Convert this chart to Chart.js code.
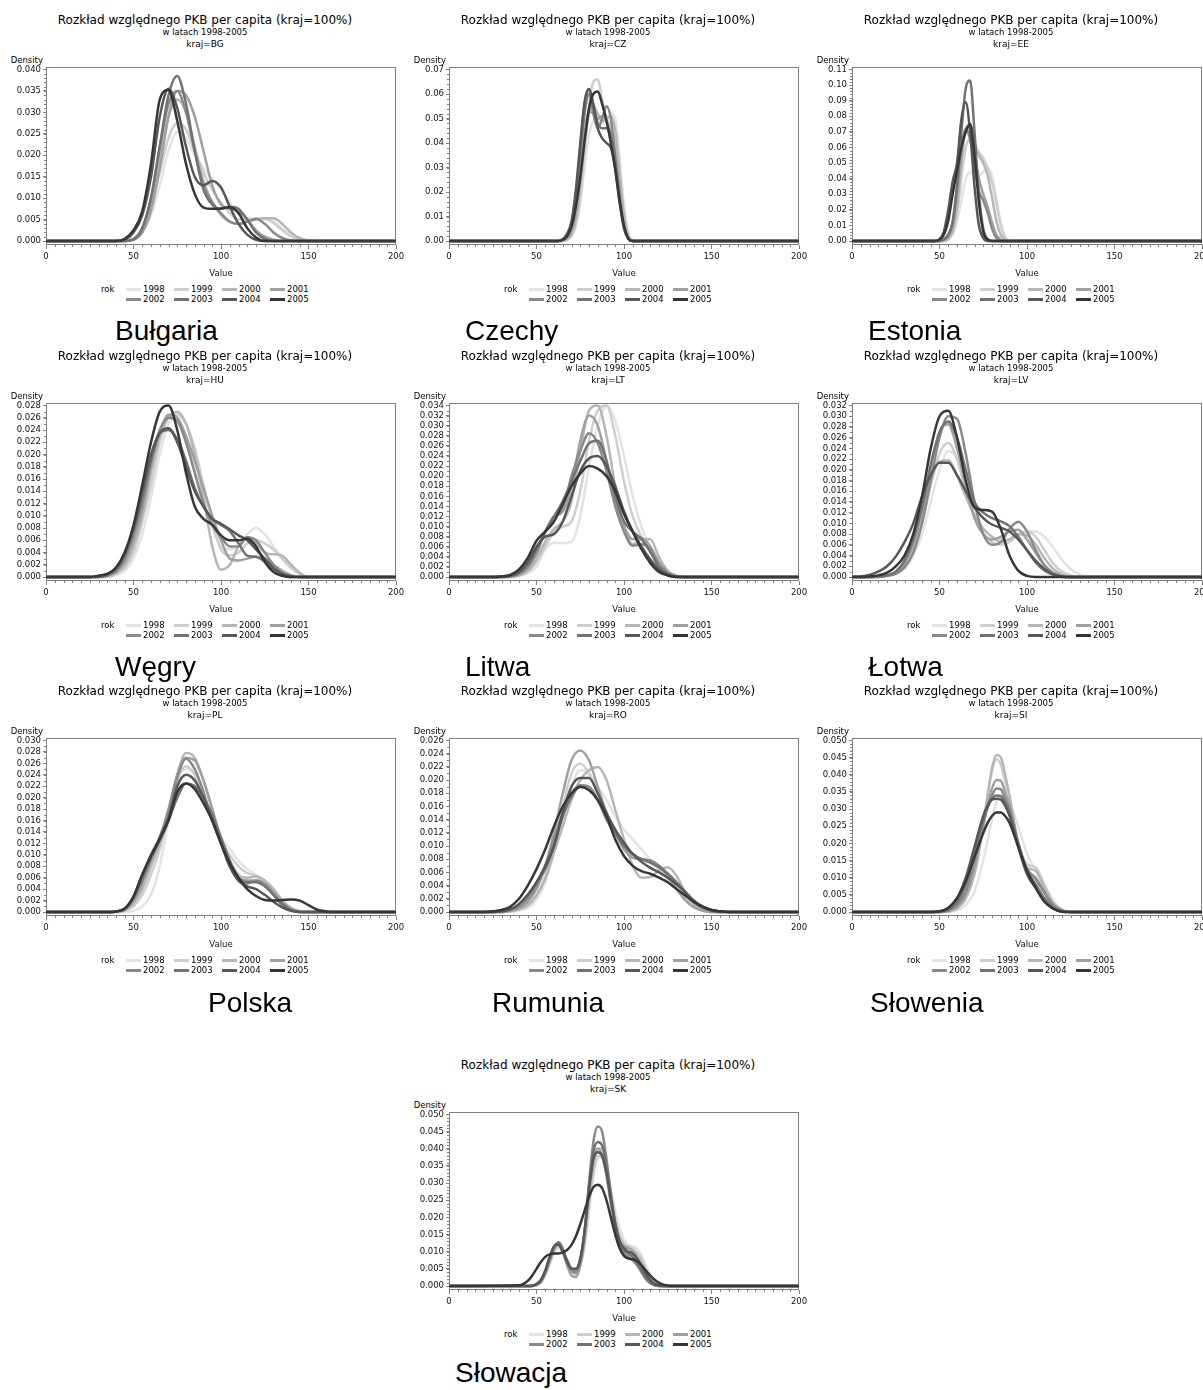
<!DOCTYPE html>
<html lang="pl">
<head>
<meta charset="utf-8">
<title>Rozkład względnego PKB per capita (kraj=100%)</title>
<script src="https://cdn.jsdelivr.net/npm/chart.js@4.4.1/dist/chart.umd.min.js"></script>
<style>
html, body { margin: 0; padding: 0; background: #fff; }
body { width: 1203px; height: 1390px; position: relative; overflow: hidden; font-family: "DejaVu Sans", Verdana, sans-serif; color: #000; }
.panel { position: absolute; width: 410px; height: 310px; }
.panel canvas { position: absolute; left: 0; top: 0; }
.t1, .t2, .t3 { position: absolute; left: 0; width: 410px; text-align: center; white-space: nowrap; }
.t1 { top: 13px; font-size: 12px; line-height: 14px; }
.t2 { top: 27px; font-size: 8.5px; line-height: 10px; }
.t3 { top: 39px; font-size: 9px; line-height: 10px; }
.dens { position: absolute; top: 55px; left: 0; width: 43px; text-align: right; font-size: 8.5px; line-height: 10px; }
.leg { position: absolute; font-size: 8.5px; line-height: 10px; white-space: nowrap; }
.sw { position: absolute; width: 15px; height: 3px; }
.country { position: absolute; font-family: "Liberation Sans", Arial, sans-serif; font-size: 28px; line-height: 28px; white-space: nowrap; }
</style>
</head>
<body>
<script>
const FONT = '"DejaVu Sans", Verdana, sans-serif';
const TEXT = '#111';
const FRAME = '#808080';

const years = ['1998', '1999', '2000', '2001', '2002', '2003', '2004', '2005'];
const yearColors = ['#e3e3e3', '#cecece', '#b6b6b6', '#a0a0a0', '#8a8a8a', '#727272', '#575757', '#363636'];

const codes = ['BG', 'CZ', 'EE', 'HU', 'LT', 'LV', 'PL', 'RO', 'SI', 'SK'];
const names = ['Bułgaria', 'Czechy', 'Estonia', 'Węgry', 'Litwa', 'Łotwa', 'Polska', 'Rumunia', 'Słowenia', 'Słowacja'];

const xTicks = [0, 50, 100, 150, 200];

// --- density curves, one array per year (1998..2005) ---
const xBG = [0, 40, 45, 50, 55, 60, 65, 70, 75, 80, 85, 90, 95, 100, 105, 110, 115, 120, 125, 130, 135, 140, 145, 150, 155, 200];
const densBG = [
  [0, 0, 0, .0005, .002, .006, .013, .021, .0255, .024, .020, .017, .0145, .012, .009, .0065, .0055, .005, .005, .0045, .003, .0015, .0005, 0, 0, 0],
  [0, 0, 0, .0005, .0025, .008, .016, .024, .0275, .026, .021, .016, .012, .009, .0065, .005, .005, .0052, .0052, .0042, .0025, .001, .0003, 0, 0, 0],
  [0, 0, 0, .0004, .002, .008, .019, .029, .033, .030, .022, .014, .009, .006, .0045, .004, .0045, .005, .0053, .0053, .004, .002, .0007, .0001, 0, 0],
  [0, 0, 0, .0003, .002, .007, .017, .029, .035, .034, .029, .021, .013, .0085, .0075, .007, .005, .0025, .001, .0003, 0, 0, 0, 0, 0, 0],
  [0, 0, 0, .0005, .003, .010, .022, .032, .035, .030, .021, .013, .009, .0065, .0045, .004, .0045, .0052, .004, .002, .0007, .0001, 0, 0, 0, 0],
  [0, 0, 0, .0003, .003, .010, .022, .034, .0385, .032, .021, .012, .0085, .0075, .008, .0075, .005, .002, .0005, 0, 0, 0, 0, 0, 0, 0],
  [0, 0, .0003, .002, .006, .015, .029, .0355, .031, .022, .015, .013, .014, .0125, .008, .004, .0015, .0003, 0, 0, 0, 0, 0, 0, 0, 0],
  [0, 0, .0005, .0025, .007, .018, .033, .0352, .028, .018, .011, .0078, .0075, .0076, .0079, .0065, .003, .0008, 0, 0, 0, 0, 0, 0, 0, 0]
];

const xCZ = [0, 60, 62.5, 65, 67.5, 70, 72.5, 75, 77.5, 80, 82.5, 85, 87.5, 90, 92.5, 95, 97.5, 100, 102.5, 105, 107.5, 200];
const densCZ = [
  [0, 0, 0, 0, .0005, .002, .006, .015, .030, .043, .049, .050, .048, .049, .052, .050, .035, .015, .004, .0005, 0, 0],
  [0, 0, 0, 0, .0005, .002, .007, .018, .036, .055, .065, .066, .058, .050, .047, .040, .025, .010, .002, 0, 0, 0],
  [0, 0, 0, 0, .001, .003, .009, .022, .040, .052, .055, .052, .049, .050, .051, .045, .028, .011, .002, 0, 0, 0],
  [0, 0, 0, .0005, .001, .004, .012, .027, .044, .053, .052, .050, .051, .049, .044, .034, .020, .007, .001, 0, 0, 0],
  [0, 0, 0, .0005, .002, .006, .017, .034, .052, .060, .052, .046, .050, .055, .050, .035, .018, .006, .001, 0, 0, 0],
  [0, 0, 0, .0005, .002, .007, .019, .037, .055, .062, .056, .048, .046, .046, .043, .033, .018, .006, .001, 0, 0, 0],
  [0, 0, 0, .0007, .003, .008, .021, .040, .057, .062, .055, .046, .042, .040, .038, .030, .016, .005, .001, 0, 0, 0],
  [0, 0, 0, .0005, .002, .006, .014, .026, .041, .054, .060, .061, .056, .049, .040, .029, .016, .006, .001, 0, 0, 0]
];

const xEE = [0, 45, 47.5, 50, 52.5, 55, 57.5, 60, 62.5, 65, 67.5, 70, 72.5, 75, 77.5, 80, 82.5, 85, 87.5, 90, 92.5, 95, 200];
const densEE = [
  [0, 0, 0, 0, 0, .001, .004, .012, .026, .040, .044, .044, .042, .044, .047, .042, .028, .012, .003, 0, 0, 0, 0],
  [0, 0, 0, 0, 0, .001, .005, .017, .040, .060, .065, .060, .057, .053, .047, .038, .024, .010, .002, 0, 0, 0, 0],
  [0, 0, 0, 0, 0, .002, .007, .022, .050, .072, .075, .064, .055, .050, .042, .028, .013, .004, .001, 0, 0, 0, 0],
  [0, 0, 0, 0, .001, .003, .010, .030, .055, .070, .068, .055, .040, .030, .022, .012, .004, .001, 0, 0, 0, 0, 0],
  [0, 0, 0, 0, .001, .004, .012, .035, .060, .072, .065, .048, .032, .026, .018, .008, .002, 0, 0, 0, 0, 0, 0],
  [0, 0, 0, 0, .001, .004, .012, .035, .070, .098, .103, .070, .030, .008, .001, 0, 0, 0, 0, 0, 0, 0, 0],
  [0, 0, 0, .001, .006, .020, .038, .050, .078, .089, .070, .035, .010, .002, 0, 0, 0, 0, 0, 0, 0, 0, 0],
  [0, 0, 0, .001, .004, .013, .030, .045, .060, .070, .075, .055, .025, .006, .001, 0, 0, 0, 0, 0, 0, 0, 0]
];

const xHU = [0, 25, 30, 35, 40, 45, 50, 55, 60, 65, 70, 75, 80, 85, 90, 95, 100, 105, 110, 115, 120, 125, 130, 135, 140, 145, 150, 155, 200];
const densHU = [
  [0, 0, 0, 0, .0003, .001, .003, .007, .013, .020, .025, .026, .023, .018, .013, .008, .005, .0045, .005, .007, .008, .007, .005, .003, .0015, .0005, 0, 0, 0],
  [0, 0, 0, 0, .0005, .0015, .004, .009, .015, .022, .026, .0265, .025, .021, .015, .009, .0045, .0035, .004, .0055, .006, .0055, .0045, .003, .0015, .0005, 0, 0, 0],
  [0, 0, 0, .0002, .0007, .002, .005, .010, .017, .023, .026, .027, .025, .020, .013, .005, .0012, .002, .005, .0065, .0055, .004, .0037, .0035, .002, .0007, 0, 0, 0],
  [0, 0, 0, .0002, .0008, .0025, .006, .011, .018, .0235, .0265, .026, .023, .019, .0145, .010, .006, .003, .0027, .003, .0033, .003, .002, .001, .0003, 0, 0, 0, 0],
  [0, 0, 0, .0003, .001, .003, .007, .012, .019, .024, .026, .0255, .022, .017, .012, .0085, .0065, .005, .005, .0065, .006, .004, .002, .0007, .0002, 0, 0, 0, 0],
  [0, 0, 0, .0003, .0012, .0035, .0075, .013, .019, .0235, .024, .0225, .019, .0145, .0115, .0095, .0085, .0075, .0055, .0035, .0033, .0025, .0012, .0004, 0, 0, 0, 0, 0],
  [0, 0, .0002, .0005, .0015, .004, .008, .014, .020, .0235, .0243, .022, .018, .014, .0115, .0095, .0087, .0078, .0068, .006, .0045, .003, .0015, .0005, .0001, 0, 0, 0, 0],
  [0, 0, .0002, .0005, .0015, .004, .0085, .015, .022, .027, .028, .024, .017, .0115, .0095, .0085, .0068, .006, .006, .0063, .005, .0025, .0008, .0002, 0, 0, 0, 0, 0]
];

const xLT = [0, 25, 30, 35, 40, 45, 50, 55, 60, 65, 70, 75, 80, 85, 90, 95, 100, 105, 110, 115, 120, 125, 130, 135, 200];
const densLT = [
  [0, 0, 0, 0, .0002, .0007, .002, .0055, .0068, .0067, .007, .012, .022, .030, .034, .031, .024, .016, .010, .006, .003, .001, .0002, 0, 0],
  [0, 0, 0, 0, .0003, .001, .003, .006, .009, .010, .011, .017, .027, .033, .034, .028, .019, .012, .008, .006, .003, .001, .0002, 0, 0],
  [0, 0, 0, 0, .0003, .0012, .0035, .007, .0095, .011, .015, .025, .033, .034, .028, .018, .010, .0065, .0075, .0075, .004, .0012, .0002, 0, 0],
  [0, 0, 0, .0001, .0005, .0018, .0045, .009, .012, .013, .018, .027, .032, .030, .023, .015, .010, .0075, .0078, .006, .003, .001, .0002, 0, 0],
  [0, 0, 0, .0002, .0007, .002, .005, .009, .012, .0135, .020, .025, .0285, .0265, .021, .014, .009, .0062, .0065, .0055, .0025, .0008, .0001, 0, 0],
  [0, 0, 0, .0002, .0008, .0025, .0055, .009, .012, .015, .019, .023, .0265, .027, .023, .016, .011, .009, .0075, .005, .002, .0006, .0001, 0, 0],
  [0, 0, .0001, .0003, .001, .003, .006, .008, .0085, .011, .016, .021, .0235, .024, .022, .018, .013, .009, .006, .0035, .0015, .0004, 0, 0, 0],
  [0, 0, .0001, .0004, .0015, .0038, .0072, .009, .011, .0145, .018, .0205, .022, .0215, .020, .017, .0125, .009, .0055, .0028, .001, .0003, 0, 0, 0]
];

const xLV = [0, 5, 10, 15, 20, 25, 30, 35, 40, 45, 50, 55, 60, 65, 70, 75, 80, 85, 90, 95, 100, 105, 110, 115, 120, 125, 130, 135, 140, 200];
const densLV = [
  [0, 0, 0, 0, .0002, .0006, .0015, .004, .008, .014, .020, .0235, .022, .017, .012, .009, .0075, .007, .007, .008, .0085, .0085, .0075, .0055, .0032, .0015, .0005, 0, 0, 0],
  [0, 0, 0, 0, .0002, .0007, .002, .005, .010, .017, .023, .025, .022, .016, .011, .008, .0065, .006, .0065, .008, .0085, .0075, .005, .0025, .001, .0003, 0, 0, 0, 0],
  [0, 0, 0, .0001, .0004, .001, .003, .007, .012, .018, .0215, .0218, .019, .015, .0115, .009, .0075, .0065, .007, .008, .0078, .006, .0035, .0015, .0005, 0, 0, 0, 0, 0],
  [0, 0, 0, .0001, .0003, .0009, .0025, .006, .012, .020, .027, .0285, .024, .017, .011, .008, .007, .0075, .0085, .0088, .007, .0045, .0022, .0008, .0002, 0, 0, 0, 0, 0],
  [0, 0, 0, 0, .0002, .0006, .0018, .0045, .010, .018, .026, .030, .0295, .023, .014, .008, .006, .0065, .009, .0103, .0085, .005, .0022, .0007, .0001, 0, 0, 0, 0, 0],
  [0, 0, 0, .0001, .0003, .001, .003, .007, .013, .021, .027, .029, .026, .020, .014, .012, .011, .0104, .0095, .0075, .005, .0027, .0012, .0004, 0, 0, 0, 0, 0, 0],
  [0, .0001, .0004, .001, .002, .0038, .0065, .010, .015, .019, .0213, .0213, .019, .016, .013, .011, .0098, .0092, .0085, .007, .005, .003, .0015, .0005, .0001, 0, 0, 0, 0, 0],
  [0, 0, .0001, .0003, .0008, .002, .004, .008, .015, .024, .030, .031, .026, .018, .013, .0125, .0122, .009, .004, .0012, .0002, 0, 0, 0, 0, 0, 0, 0, 0, 0]
];

const xPL = [0, 35, 40, 45, 50, 55, 60, 65, 70, 75, 80, 85, 90, 95, 100, 105, 110, 115, 120, 125, 130, 135, 140, 145, 150, 155, 160, 165, 200];
const densPL = [
  [0, 0, 0, 0, .0002, .001, .003, .008, .016, .023, .025, .024, .020, .016, .013, .011, .009, .0075, .0065, .0055, .004, .002, .0008, .0002, 0, 0, 0, 0, 0],
  [0, 0, 0, .0002, .001, .003, .0065, .011, .017, .023, .0255, .024, .020, .016, .0125, .010, .008, .0068, .0063, .005, .0035, .0018, .0006, .0001, 0, 0, 0, 0, 0],
  [0, 0, 0, .0003, .0015, .004, .008, .012, .017, .024, .0278, .027, .023, .018, .013, .009, .0065, .006, .0062, .0055, .004, .002, .0007, .0001, 0, 0, 0, 0, 0],
  [0, 0, .0001, .0004, .002, .005, .009, .013, .018, .024, .027, .0265, .023, .018, .0125, .008, .006, .0055, .0055, .005, .0035, .0017, .0005, .0001, 0, 0, 0, 0, 0],
  [0, 0, .0001, .0005, .0022, .0055, .0093, .013, .0175, .0235, .0268, .025, .021, .016, .012, .008, .0055, .005, .0055, .0048, .003, .0012, .0003, 0, 0, 0, 0, 0, 0],
  [0, 0, .0001, .0005, .0025, .006, .0095, .0125, .016, .020, .0225, .022, .020, .017, .013, .009, .006, .0052, .0052, .0045, .003, .0014, .0004, 0, 0, 0, 0, 0, 0],
  [0, 0, .0001, .0006, .0027, .0065, .010, .013, .0165, .022, .024, .023, .020, .016, .012, .008, .0055, .0045, .004, .003, .0018, .0008, .0002, 0, 0, 0, 0, 0, 0],
  [0, 0, .0001, .0006, .0027, .0065, .0098, .0128, .016, .021, .0225, .0215, .019, .016, .012, .0085, .006, .004, .0028, .0021, .002, .0021, .0022, .002, .0012, .0004, .0001, 0, 0]
];

const xRO = [0, 20, 25, 30, 35, 40, 45, 50, 55, 60, 65, 70, 75, 80, 85, 90, 95, 100, 105, 110, 115, 120, 125, 130, 135, 140, 145, 150, 155, 160, 165, 170, 200];
const densRO = [
  [0, 0, 0, 0, 0, .0002, .0006, .0018, .0045, .009, .014, .019, .0215, .021, .019, .017, .0145, .0125, .011, .0095, .008, .007, .0055, .004, .0025, .0012, .0004, .0001, 0, 0, 0, 0, 0],
  [0, 0, 0, 0, .0001, .0004, .001, .0025, .0055, .010, .016, .021, .0225, .021, .018, .015, .012, .0095, .0085, .008, .0075, .0065, .005, .0035, .002, .0009, .0003, 0, 0, 0, 0, 0, 0],
  [0, 0, 0, 0, .0001, .0004, .001, .0025, .005, .009, .013, .017, .020, .0215, .022, .020, .0155, .011, .007, .0052, .0053, .0063, .0068, .0055, .003, .0012, .0003, 0, 0, 0, 0, 0, 0],
  [0, 0, 0, 0, .0002, .0006, .0015, .0035, .007, .012, .018, .023, .0245, .023, .019, .015, .012, .0095, .0082, .008, .0078, .007, .0055, .0035, .0018, .0007, .0002, 0, 0, 0, 0, 0, 0],
  [0, 0, 0, .0001, .0003, .0008, .002, .004, .007, .011, .015, .018, .0192, .019, .017, .014, .012, .010, .0088, .008, .0078, .007, .0058, .0045, .003, .0016, .0006, .0002, 0, 0, 0, 0, 0],
  [0, 0, 0, .0001, .0004, .0012, .0026, .0045, .0065, .010, .0145, .0175, .019, .0185, .017, .0145, .012, .010, .0088, .008, .0075, .0068, .0058, .0045, .003, .0016, .0007, .0002, 0, 0, 0, 0, 0],
  [0, 0, 0, .0001, .0004, .0012, .0026, .0045, .007, .010, .015, .019, .0203, .0203, .018, .015, .0125, .0105, .0088, .0076, .0067, .006, .0052, .0042, .003, .0017, .0008, .0003, .0001, 0, 0, 0, 0],
  [0, 0, .0001, .0003, .0008, .002, .004, .0065, .0095, .013, .016, .018, .019, .0185, .017, .0145, .011, .0085, .007, .0062, .0058, .0052, .0045, .0035, .0025, .0015, .0008, .0003, .0001, 0, 0, 0, 0]
];

const xSI = [0, 45, 50, 55, 60, 65, 70, 75, 77.5, 80, 82.5, 85, 87.5, 90, 95, 100, 105, 110, 115, 120, 125, 200];
const densSI = [
  [0, 0, 0, 0, .0005, .002, .006, .015, .021, .027, .032, .034, .0335, .032, .025, .017, .012, .007, .003, .0008, 0, 0],
  [0, 0, 0, .0002, .001, .004, .012, .026, .034, .041, .0445, .043, .038, .033, .020, .014, .013, .008, .003, .0007, 0, 0],
  [0, 0, 0, .0002, .001, .004, .011, .025, .034, .042, .0458, .0452, .040, .034, .020, .013, .012, .007, .0025, .0005, 0, 0],
  [0, 0, 0, .0003, .0015, .005, .013, .025, .031, .036, .0385, .0383, .035, .031, .020, .0125, .010, .006, .002, .0005, 0, 0],
  [0, 0, 0, .0004, .002, .006, .015, .026, .031, .034, .036, .0358, .033, .030, .020, .0125, .0095, .0055, .002, .0004, 0, 0],
  [0, 0, .0001, .0006, .0028, .008, .017, .027, .0305, .033, .034, .0338, .032, .029, .020, .012, .008, .004, .0012, .0002, 0, 0],
  [0, 0, .0002, .0012, .004, .010, .019, .028, .031, .0328, .033, .0328, .031, .028, .019, .011, .007, .003, .001, .0001, 0, 0],
  [0, 0, .0002, .0012, .004, .009, .016, .023, .026, .028, .029, .029, .028, .026, .019, .012, .007, .003, .001, .0001, 0, 0]
];

const xSK = [0, 40, 42.5, 45, 47.5, 50, 52.5, 55, 57.5, 60, 62.5, 65, 67.5, 70, 72.5, 75, 77.5, 80, 82.5, 85, 87.5, 90, 92.5, 95, 97.5, 100, 102.5, 105, 107.5, 110, 112.5, 115, 117.5, 120, 122.5, 125, 127.5, 130, 200];
const densSK = [
  [0, 0, 0, 0, 0, .0003, .001, .003, .006, .0095, .011, .0098, .0075, .0055, .005, .0065, .012, .022, .032, .037, .0375, .034, .028, .022, .017, .0135, .012, .0115, .011, .009, .006, .0035, .0015, .0005, .0001, 0, 0, 0, 0],
  [0, 0, 0, 0, 0, .0003, .0012, .0035, .007, .010, .0115, .010, .0075, .005, .0045, .006, .012, .023, .033, .038, .038, .034, .027, .020, .015, .0125, .0115, .011, .0098, .008, .005, .0028, .0012, .0004, 0, 0, 0, 0, 0],
  [0, 0, 0, 0, 0, .0003, .0012, .0035, .007, .0105, .012, .010, .007, .004, .0035, .006, .013, .025, .035, .040, .040, .035, .027, .019, .014, .012, .011, .0105, .009, .007, .0042, .002, .0008, .0002, 0, 0, 0, 0, 0],
  [0, 0, 0, 0, 0, .0004, .0015, .004, .008, .011, .0125, .010, .006, .003, .0026, .006, .015, .028, .037, .040, .038, .032, .024, .017, .013, .0115, .011, .010, .008, .0055, .003, .0013, .0004, .0001, 0, 0, 0, 0, 0],
  [0, 0, 0, 0, 0, .0003, .0012, .0037, .0075, .011, .0128, .011, .007, .0045, .004, .007, .016, .030, .042, .0465, .045, .037, .027, .018, .012, .0095, .0085, .0075, .006, .004, .002, .0008, .0002, 0, 0, 0, 0, 0, 0],
  [0, 0, 0, 0, .0001, .0005, .0016, .0042, .008, .0115, .0125, .0105, .0075, .005, .0048, .0075, .016, .029, .039, .042, .041, .035, .026, .018, .013, .0105, .0095, .0085, .0068, .0045, .0025, .001, .0003, 0, 0, 0, 0, 0, 0],
  [0, 0, 0, 0, .0001, .0006, .0018, .0045, .0085, .0115, .012, .010, .007, .005, .005, .008, .016, .028, .037, .039, .038, .033, .025, .018, .013, .011, .010, .0095, .008, .0058, .0035, .0017, .0006, .0002, 0, 0, 0, 0, 0],
  [0, .0002, .0006, .0015, .003, .005, .007, .0085, .0092, .0095, .0095, .0098, .0105, .012, .0145, .018, .022, .026, .0288, .0295, .0285, .025, .020, .015, .011, .0088, .008, .0078, .0072, .006, .0045, .003, .0018, .0009, .0004, .0001, 0, 0, 0]
];

// --- y tick labels ---
const yTicksBG = [0, .005, .010, .015, .020, .025, .030, .035, .040];
const yTicksCZ = [0, .01, .02, .03, .04, .05, .06, .07];
const yTicksEE = [0, .01, .02, .03, .04, .05, .06, .07, .08, .09, .10, .11];
const yTicksHU = [0, .002, .004, .006, .008, .010, .012, .014, .016, .018, .020, .022, .024, .026, .028];
const yTicksLT = [0, .002, .004, .006, .008, .010, .012, .014, .016, .018, .020, .022, .024, .026, .028, .030, .032, .034];
const yTicksLV = [0, .002, .004, .006, .008, .010, .012, .014, .016, .018, .020, .022, .024, .026, .028, .030, .032];
const yTicksPL = [0, .002, .004, .006, .008, .010, .012, .014, .016, .018, .020, .022, .024, .026, .028, .030];
const yTicksRO = [0, .002, .004, .006, .008, .010, .012, .014, .016, .018, .020, .022, .024, .026];
const yTicksSI = [0, .005, .010, .015, .020, .025, .030, .035, .040, .045, .050];
const yTicksSK = [0, .005, .010, .015, .020, .025, .030, .035, .040, .045, .050];

const xsAll = [xBG, xCZ, xEE, xHU, xLT, xLV, xPL, xRO, xSI, xSK];
const densAll = [densBG, densCZ, densEE, densHU, densLT, densLV, densPL, densRO, densSI, densSK];
const yTicksAll = [yTicksBG, yTicksCZ, yTicksEE, yTicksHU, yTicksLT, yTicksLV, yTicksPL, yTicksRO, yTicksSI, yTicksSK];
const yDigits = [3, 2, 2, 3, 3, 3, 3, 3, 3, 3];
const yMinorSteps = [.001, .002, .002, .001, .001, .001, .001, .001, .001, .001];

// page layout
const slots = [[0, 0], [403, 0], [806, 0], [0, 336], [403, 336], [806, 336], [0, 671], [403, 671], [806, 671], [403, 1045]];
const nameSpots = [[115, 317], [465, 317], [868, 317], [115, 653], [465, 653], [868, 653], [208, 989], [492, 989], [870, 989], [455, 1359]];

// frame around the plot plus the small minor ticks between labels
const framePlugin = {
  id: 'frame',
  beforeDatasetsDraw(chart, args, opts) {
    const { ctx, chartArea: a, scales } = chart;
    ctx.save();
    ctx.strokeStyle = FRAME;
    ctx.lineWidth = 1;
    ctx.strokeRect(a.left + 0.5, a.top + 0.5, a.right - a.left - 1, a.bottom - a.top - 1);
    ctx.beginPath();
    for (let v = 5; v < 200; v += 5) {
      if (v % 50 === 0) continue;
      const px = Math.round(scales.x.getPixelForValue(v)) + 0.5;
      ctx.moveTo(px, a.bottom);
      ctx.lineTo(px, a.bottom + 2);
    }
    const n = Math.round(opts.top / opts.step);
    for (let k = 1; k < n; k++) {
      const py = Math.round(scales.y.getPixelForValue(k * opts.step)) + 0.5;
      ctx.moveTo(a.left, py);
      ctx.lineTo(a.left - 2, py);
    }
    ctx.stroke();
    ctx.restore();
  }
};

function addPanel(i) {
  const [left, top] = slots[i];
  const box = document.createElement('div');
  box.className = 'panel';
  box.style.left = left + 'px';
  box.style.top = top + 'px';
  box.innerHTML =
    '<div class="t1">Rozkład względnego PKB per capita (kraj=100%)</div>' +
    '<div class="t2">w latach 1998-2005</div>' +
    '<div class="t3">kraj=' + codes[i] + '</div>' +
    '<div class="dens">Density</div>';

  const cv = document.createElement('canvas');
  cv.width = 410;
  cv.height = 282;
  cv.style.width = '410px';
  cv.style.height = '282px';
  box.appendChild(cv);

  // legend: "rok" then two rows of four years
  const rok = document.createElement('div');
  rok.className = 'leg';
  rok.style.left = '101px';
  rok.style.top = '284px';
  rok.textContent = 'rok';
  box.appendChild(rok);
  years.forEach((yr, k) => {
    const col = k % 4, row = Math.floor(k / 4);
    const sx = 126 + col * 48, sy = 289 + row * 9.5;
    const sw = document.createElement('div');
    sw.className = 'sw';
    sw.style.left = sx + 'px';
    sw.style.top = (sy - 1) + 'px';
    sw.style.background = yearColors[k];
    box.appendChild(sw);
    const tx = document.createElement('div');
    tx.className = 'leg';
    tx.style.left = (sx + 17) + 'px';
    tx.style.top = (sy - 5) + 'px';
    tx.textContent = yr;
    box.appendChild(tx);
  });
  document.body.appendChild(box);

  const nm = document.createElement('div');
  nm.className = 'country';
  nm.style.left = nameSpots[i][0] + 'px';
  nm.style.top = nameSpots[i][1] + 'px';
  nm.textContent = names[i];
  document.body.appendChild(nm);

  const xs = xsAll[i];
  const yTicks = yTicksAll[i];
  const yTop = yTicks[yTicks.length - 1];
  const digits = yDigits[i];

  const datasets = densAll[i].map((ys, k) => ({
    label: years[k],
    data: xs.map((x, j) => ({ x: x, y: ys[j] })),
    borderColor: yearColors[k],
    borderWidth: 2.5,
    pointRadius: 0,
    fill: false,
    cubicInterpolationMode: 'monotone',
    order: 7 - k
  }));

  new Chart(cv, {
    type: 'line',
    data: { datasets: datasets },
    options: {
      responsive: false,
      animation: false,
      events: [],
      layout: { padding: { top: 67, right: 14, bottom: 0, left: 0 } },
      plugins: {
        legend: { display: false },
        tooltip: { enabled: false },
        frame: { top: yTop, step: yMinorSteps[i] }
      },
      scales: {
        x: {
          type: 'linear',
          min: 0,
          max: 200,
          afterBuildTicks: s => { s.ticks = xTicks.map(v => ({ value: v })); },
          afterFit: s => { s.height = 37; },
          grid: { drawOnChartArea: false, tickLength: 4, tickColor: FRAME },
          border: { display: false },
          ticks: { autoSkip: false, maxRotation: 0, padding: 3, color: TEXT, font: { family: FONT, size: 8.5 } },
          title: { display: true, text: 'Value', color: TEXT, font: { family: FONT, size: 8.5 }, padding: { top: 0, bottom: 3 } }
        },
        y: {
          type: 'linear',
          min: -yTop * 0.0233,
          max: yTop * 1.0146,
          afterBuildTicks: s => { s.ticks = yTicks.map(v => ({ value: v })); },
          afterFit: s => { s.width = 46; },
          grid: { drawOnChartArea: false, tickLength: 3, tickColor: FRAME },
          border: { display: false },
          ticks: { autoSkip: false, padding: 2, color: TEXT, font: { family: FONT, size: 8.5 },
            callback: v => Number(v).toFixed(digits) }
        }
      }
    },
    plugins: [framePlugin]
  });
}

for (let i = 0; i < codes.length; i++) addPanel(i);
</script>
</body>
</html>
